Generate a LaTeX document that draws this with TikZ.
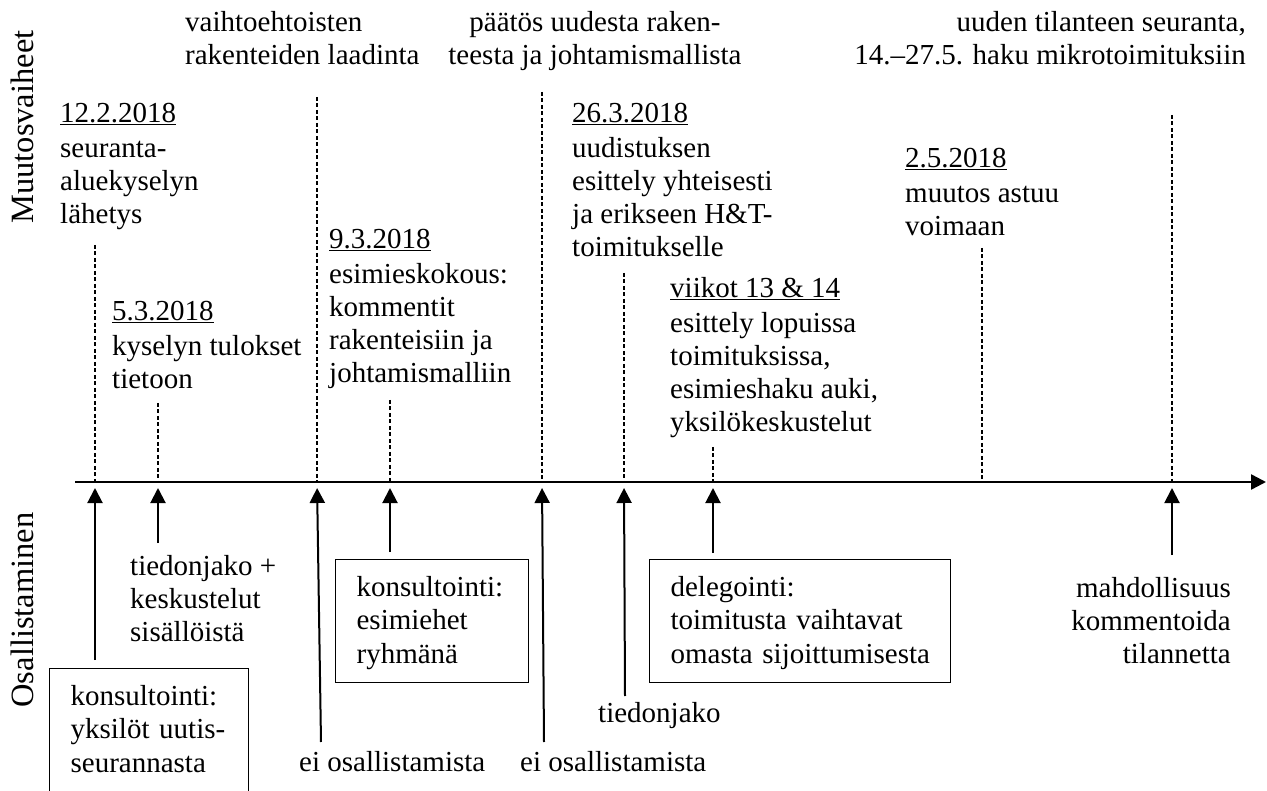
\documentclass[tikz,border=0pt]{standalone}
\usepackage{fontspec}
\setmainfont{Liberation Serif}
\usetikzlibrary{arrows.meta}
\begin{document}
\begin{tikzpicture}[x=1pt,y=-1pt,
  every node/.style={font=\fontsize{29}{33.3}\selectfont, inner sep=0pt},
  lbl/.style={anchor=north west, align=left},
  lblc/.style={anchor=north, align=center},
  lblr/.style={anchor=north east, align=right},
  side/.style={font=\fontsize{32.5}{38}\selectfont, rotate=90, anchor=base},
  boxed/.style={draw, line width=1.2pt, anchor=north west, align=left, inner xsep=21pt, inner ysep=13.5pt},
  axisline/.style={line width=2.5pt, -{Triangle[width=15pt,length=15pt]}},
  uparrow/.style={line width=2pt, -{Triangle[width=15pt,length=15pt]}, shorten >=6pt},
  guide/.style={line width=1.4pt, dash pattern=on 4pt off 2.5pt},
]
\useasboundingbox (0,0) rectangle (1267,791);
\clip (0,0) rectangle (1267,791);

% side labels
\node[side] (sideTop) at (33,127) {Muutosvaiheet};
\node[side] (sideBot) at (33,610) {Osallistaminen};

% axis
\coordinate (ax0) at (75,482);
\coordinate (ax1) at (1266,482);
\draw[axisline] (ax0) -- (ax1);

% event points on axis
\coordinate (e1) at (95,482);
\coordinate (e2) at (158,482);
\coordinate (e3) at (317,482);
\coordinate (e4) at (390,482);
\coordinate (e5) at (542,482);
\coordinate (e6) at (624,482);
\coordinate (e7) at (713,482);
\coordinate (e8) at (982,482);
\coordinate (e9) at (1172,482);

% dashed guide tops
\coordinate (d1) at (95,245);
\coordinate (d2) at (158,403);
\coordinate (d3) at (317,97);
\coordinate (d4) at (390,400);
\coordinate (d5) at (542,92);
\coordinate (d6) at (624,273);
\coordinate (d7) at (713,447);
\coordinate (d8) at (982,248);
\coordinate (d9) at (1172,115);
\foreach \i in {1,...,9} {\draw[guide] (d\i) -- (e\i);}

% upper texts
\node[lbl] (tA) at (185,7.7) {\strut vaihtoehtoisten\\rakenteiden laadinta};
\node[lblc] (tB) at (595,7.7) {\strut päätös uudesta raken-\\teesta ja johtamismallista};
\node[lblr] (tC) at (1246,7.7) {\strut uuden tilanteen seuranta,\\14.–27.5. haku mikrotoimituksiin};
\node[lbl] (tD) at (60,98.7) {\strut\underline{12.2.2018}\\[1.5pt]seuranta-\\aluekyselyn\\lähetys};
\node[lbl] (tE) at (112,296.7) {\strut\underline{5.3.2018}\\[1.5pt]kyselyn tulokset\\tietoon};
\node[lbl] (tF) at (329,224.7) {\strut\underline{9.3.2018}\\[1.5pt]esimieskokous:\\kommentit\\rakenteisiin ja\\johtamismalliin};
\node[lbl] (tG) at (572,98.7) {\strut\underline{26.3.2018}\\[1.5pt]uudistuksen\\esittely yhteisesti\\ja erikseen H\&T-\\toimitukselle};
\node[lbl] (tH) at (670,273.7) {\strut\underline{viikot 13 \& 14}\\[1.5pt]esittely lopuissa\\toimituksissa,\\esimieshaku auki,\\yksilökeskustelut};
\node[lbl] (tI) at (905,143.7) {\strut\underline{2.5.2018}\\[1.5pt]muutos astuu\\voimaan};

% lower texts and boxes
\node[boxed, text width=157pt] (bJ) at (49,668) {\strut \mbox{konsultointi:}\\\mbox{yksilöt uutis-}\\\mbox{seurannasta}\rule[-20pt]{0pt}{0pt}};
\node[lbl] (tK) at (130,551.7) {\strut tiedonjako +\\keskustelut\\sisällöistä};
\node[boxed, text width=151pt] (bL) at (335,559) {\strut \mbox{konsultointi:}\\\mbox{esimiehet}\\\mbox{ryhmänä}};
\node[lbl] (tM) at (299,747.7) {\strut ei osallistamista};
\node[lbl] (tN) at (520,747.7) {\strut ei osallistamista};
\node[lbl] (tO) at (598,698.7) {\strut tiedonjako};
\node[boxed, text width=259pt] (bP) at (649,559) {\strut \mbox{delegointi:}\\\mbox{toimitusta vaihtavat}\\\mbox{omasta sijoittumisesta}};
\node[lblr] (tQ) at (1231,573.7) {\strut mahdollisuus\\kommentoida\\tilannetta};

% arrow starts
\coordinate (a1) at (95,660);
\coordinate (a2) at (158,543);
\coordinate (a3) at (321,742);
\coordinate (a4) at (390,552);
\coordinate (a5) at (544,742);
\coordinate (a6) at (625,696);
\coordinate (a7) at (713,553);
\coordinate (a9) at (1172,555);
\foreach \i in {1,2,3,4,5,6,7,9} {\draw[uparrow] (a\i) -- (e\i);}
\end{tikzpicture}
\end{document}
